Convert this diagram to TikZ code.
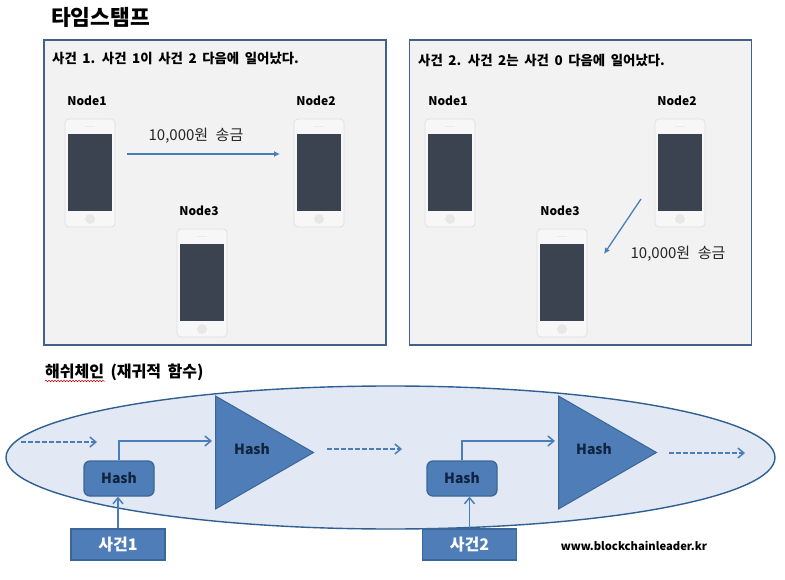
\documentclass[tikz,border=0pt]{standalone}
\usepackage{fontspec}
\setmainfont{Noto Sans CJK KR}
\usetikzlibrary{shapes.geometric,arrows.meta,decorations.pathmorphing}
\definecolor{panelline}{HTML}{41618A}
\definecolor{panelfill}{HTML}{F2F2F2}
\definecolor{hashfill}{HTML}{4F7DB8}
\definecolor{hashline}{HTML}{3A6698}
\definecolor{hashtext}{HTML}{10233F}
\definecolor{arrowblue}{HTML}{4A7EBB}
\definecolor{ovalfill}{HTML}{E3E9F4}
\definecolor{ovalline}{HTML}{2F5F93}
\definecolor{screen}{HTML}{3B4350}
\newcommand{\widewords}[1]{\spaceskip=#1\relax}
\tikzset{
  panel/.style={draw=panelline, line width=1.6, fill=panelfill, minimum width=342, minimum height=305, inner sep=0},
  phone/.style={draw=black!12, line width=0.8, fill=black!3, rounded corners=4, minimum width=50, minimum height=108, inner sep=0,
    path picture={
      \fill[screen, sharp corners] ([shift={(-22,-39)}]path picture bounding box.center) rectangle ([shift={(22,38)}]path picture bounding box.center);
      \fill[black!9, sharp corners] ([shift={(0,46)}]path picture bounding box.center) circle (5);
      \fill[black!8, sharp corners] ([shift={(-5,-46.5)}]path picture bounding box.center) rectangle ([shift={(5,-45.5)}]path picture bounding box.center);
    }},
  nodename/.style={font=\fontsize{12}{14}\selectfont\bfseries, inner sep=0},
  caption/.style={font=\fontsize{13.4}{16}\selectfont\bfseries, inner sep=0, anchor=west},
  amount/.style={font=\fontsize{15}{17}\selectfont, inner sep=0, text=black!85},
  send/.style={draw=arrowblue, line width=1.3, -{Latex[length=6,width=6]}},
  hashbox/.style={draw=hashline, line width=1.3, fill=hashfill, rounded corners=6, minimum width=70, minimum height=35, inner sep=0, text=hashtext, font=\fontsize{14}{16}\selectfont\bfseries},
  hashtri/.style={draw=hashline, line width=1, fill=hashfill, isosceles triangle, isosceles triangle stretches, minimum width=113, minimum height=98, inner sep=0, anchor=lower side},
  hashlabel/.style={text=hashtext, font=\fontsize{14}{16}\selectfont\bfseries, inner sep=0},
  eventbox/.style={draw=hashline, line width=1.3, fill=hashfill, minimum width=94, minimum height=31, inner sep=0, text=white, font=\fontsize{16}{18}\selectfont\bfseries},
  feed/.style={draw=arrowblue, line width=1.5, -{Straight Barb[length=6,width=10]}},
  carry/.style={feed, dash pattern=on 5pt off 2pt}
}
\begin{document}
\begin{tikzpicture}[x=1pt,y=-1pt]
  \useasboundingbox (0,0) rectangle (785,580);
  \node [font=\fontsize{21.5}{26}\selectfont\bfseries, inner sep=0, anchor=west] (title) at (51,17) {타임스탬프};

  % left panel
  \node [panel] (panelA) at (215,192.5) {};
  \node [caption] (capA) at (52,58) {\widewords{5.6pt}사건 1. 사건 1이 사건 2 다음에 일어났다.};
  \node [nodename] (nameA1) at (87,101) {Node1};
  \node [nodename] (nameA2) at (316,101) {Node2};
  \node [nodename] (nameA3) at (199,211) {Node3};
  \node [phone] (phoneA1) at (90,173) {};
  \node [phone] (phoneA2) at (319,173) {};
  \node [phone] (phoneA3) at (202,283) {};
  \node [amount] (sendA) at (196,136) {\widewords{7.5pt}10,000원 송금};
  \coordinate (fromA) at (127,154);
  \coordinate (toA) at (280,154);
  \draw [send] (fromA) -- (toA);

  % right panel
  \node [panel] (panelB) at (580.5,192.5) {};
  \node [caption] (capB) at (418,60) {\widewords{5.6pt}사건 2. 사건 2는 사건 0 다음에 일어났다.};
  \node [nodename] (nameB1) at (448,101) {Node1};
  \node [nodename] (nameB2) at (677,101) {Node2};
  \node [nodename] (nameB3) at (560,211) {Node3};
  \node [phone] (phoneB1) at (450,173) {};
  \node [phone] (phoneB2) at (680,173) {};
  \node [phone] (phoneB3) at (562,283) {};
  \node [amount] (sendB) at (678,254) {\widewords{7.5pt}10,000원 송금};
  \coordinate (fromB) at (641,199);
  \coordinate (toB) at (604,254);
  \draw [send] (fromB) -- (toB);

  % hash chain
  \node [font=\fontsize{16}{18}\selectfont\bfseries, inner sep=0, anchor=west] (chain) at (45,372) {\widewords{6.5pt}해쉬체인 (재귀적 함수)};
  \coordinate (wavyL) at (45,381);
  \coordinate (wavyR) at (105,381);
  \draw [red!80!black, line width=0.5, decorate, decoration={snake, amplitude=0.8, segment length=3}] (wavyL) -- (wavyR);
  \node [ellipse, draw=ovalline, line width=1.4, fill=ovalfill, minimum width=769, minimum height=143, inner sep=0] (oval) at (390.5,457.5) {};

  \node [hashtri] (triA) at (215,452.5) {};
  \node [hashtri] (triB) at (558,452.5) {};
  \node [hashlabel] (triAtext) at (252,449) {Hash};
  \node [hashlabel] (triBtext) at (594,449) {Hash};
  \node [hashbox] (boxA) at (119,478.5) {Hash};
  \node [hashbox] (boxB) at (462,478.5) {Hash};
  \node [eventbox] (eventA) at (118,544.5) {사건1};
  \node [eventbox] (eventB) at (469.5,544.5) {사건2};
  \node [inner sep=0, font=\fontsize{11.2}{14}\selectfont\bfseries] (site) at (634,546) {www.blockchainleader.kr};

  \coordinate (inA) at (212,441);
  \coordinate (inB) at (555,441);
  \draw [feed] (boxA.north) |- (inA);
  \draw [feed] (boxB.north) |- (inB);
  \draw [feed] (eventA.north) -- (eventA.north |- boxA.south);
  \draw [feed] (eventB.north) -- (eventB.north |- boxB.south);

  \coordinate (startL) at (21,442);
  \coordinate (startR) at (97,442);
  \coordinate (midL) at (327,449);
  \coordinate (midR) at (402,449);
  \coordinate (endL) at (669,453);
  \coordinate (endR) at (745,453);
  \draw [carry] (startL) -- (startR);
  \draw [carry] (midL) -- (midR);
  \draw [carry] (endL) -- (endR);
\end{tikzpicture}
\end{document}
